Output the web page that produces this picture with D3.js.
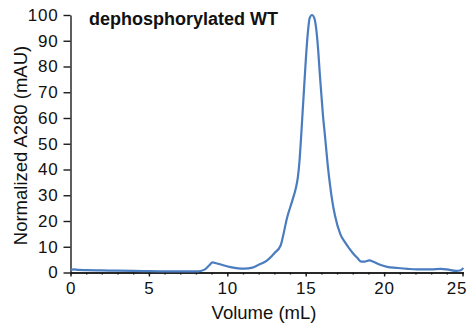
<!DOCTYPE html>
<html>
  <head>
	<meta charset="utf-8">
	<title>SEC Chromatogramm</title>
	<script src="https://cdnjs.cloudflare.com/ajax/libs/d3/7.8.5/d3.min.js"></script>
	<style>
	  body { margin: 0; background: #fff; }
	  .kurve { fill: none; stroke: #4a7cc0; stroke-width: 2.2px; }
	  .achse path, .achse line { stroke: #1a1a1a; stroke-width: 1.4px; }
	  .achse text { font-family: "Liberation Sans", Arial, sans-serif; font-size: 17px; fill: #111; letter-spacing: 0.8px; }
	  .titel { font-family: "Liberation Sans", Arial, sans-serif; fill: #111; }
	</style>
  </head>
  <body>
    <div id="Diagramm"></div>
    <script>
		var volumen = [0, 0.2, 0.5, 1, 2, 3, 4, 5, 6, 7, 8, 8.3, 8.6, 8.85, 9.05, 9.3, 9.7,
			10.2, 10.7, 11.1, 11.6, 12.0, 12.5, 13.0, 13.4, 13.55, 13.8, 14.15, 14.38, 14.5,
			14.6, 14.7, 14.8, 14.9, 15.0, 15.15, 15.25, 15.4, 15.55, 15.7, 15.8, 15.9, 16.0,
			16.1, 16.23, 16.4, 16.55, 16.7, 16.87, 17.2, 17.5, 17.75, 18.0, 18.3, 18.55, 18.75,
			19.05, 19.35, 19.7, 20.2, 20.8, 21.5, 22.1, 23.0, 23.6, 24.0, 24.6, 24.9, 25.05];
		var absorption = [1.0, 1.2, 1.0, 0.9, 0.8, 0.7, 0.6, 0.5, 0.45, 0.4, 0.4, 0.6, 1.3, 2.8, 3.9, 3.6, 2.9,
			2.1, 1.6, 1.5, 1.9, 3.0, 4.5, 7.5, 10.5, 14, 21, 28, 33, 37,
			43, 52, 62, 72, 82, 94, 98.8, 100, 98.8, 93, 86, 77, 69,
			61, 53, 42, 34, 27.5, 22, 15, 11.8, 9.6, 7.6, 5.6, 4.2, 4.2,
			4.7, 4.1, 3.1, 2.2, 1.8, 1.4, 1.2, 1.2, 1.4, 1.2, 0.6, 0.9, 1.8];
		var xTicks = [0, 5, 10, 15, 20, 25];
		var xNebenTicks = d3.range(0, 26, 1);
		var yTicks = [0, 10, 20, 30, 40, 50, 60, 70, 80, 90, 100];

		var daten = volumen.map(function (v, i) {
			return { vol: v, wert: absorption[i] };
		});

		var svg = d3.select("#Diagramm")
			.append("svg")
			.attr("width", 470)
			.attr("height", 330);

		var xSkala = d3.scaleLinear().domain([0, 25.05]).range([70.5, 463.3]);
		var ySkala = d3.scaleLinear().domain([0, 100]).range([272.5, 15]);

		svg.append("g")
			.attr("class", "achse")
			.attr("transform", "translate(0," + ySkala(0) + ")")
			.call(d3.axisBottom(xSkala).tickValues(xNebenTicks).tickSize(2).tickFormat("").tickSizeOuter(0));

		var xAchse = svg.append("g")
			.attr("class", "achse")
			.attr("transform", "translate(0," + ySkala(0) + ")")
			.call(d3.axisBottom(xSkala).tickValues(xTicks).tickSize(4).tickPadding(5).tickSizeOuter(0));
		// letzte Beschriftung am Rand etwas nach links
		xAchse.selectAll(".tick text")
			.filter(function (d) { return d === 25; })
			.attr("dx", "-6");

		svg.append("g")
			.attr("class", "achse")
			.attr("transform", "translate(" + xSkala(0) + ",0)")
			.call(d3.axisLeft(ySkala).tickValues(yTicks).tickSize(7).tickPadding(5).tickSizeOuter(0));

		svg.append("path")
			.datum(daten)
			.attr("class", "kurve")
			.attr("d", d3.line()
				.curve(d3.curveMonotoneX)
				.x(function (d) { return xSkala(d.vol); })
				.y(function (d) { return ySkala(d.wert); }));

		svg.append("text")
			.attr("class", "titel")
			.attr("x", 89)
			.attr("y", 25)
			.style("font-size", "18px")
			.style("font-weight", "bold")
			.text("dephosphorylated WT");

		svg.append("text")
			.attr("class", "titel")
			.attr("x", 264)
			.attr("y", 319)
			.attr("text-anchor", "middle")
			.style("font-size", "18.5px")
			.text("Volume (mL)");

		svg.append("text")
			.attr("class", "titel")
			.attr("transform", "translate(27,145.5) rotate(-90)")
			.attr("text-anchor", "middle")
			.style("font-size", "18.5px")
			.text("Normalized A280 (mAU)");
     </script>
  </body>
</html>
